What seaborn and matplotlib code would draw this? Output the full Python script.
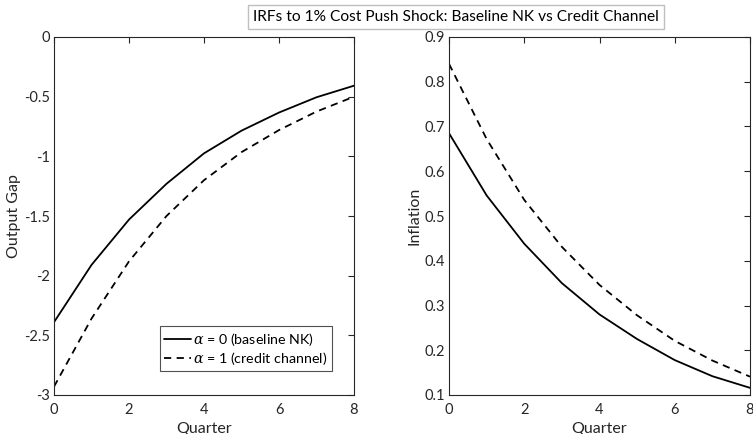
import numpy as np
import pandas as pd
import matplotlib
matplotlib.use("Agg")
import matplotlib.pyplot as plt
from matplotlib.ticker import FuncFormatter
import seaborn as sns

quarters = [0, 1, 2, 3, 4, 5, 6, 7, 8]
gap_nk = [-2.39, -1.91, -1.53, -1.23, -0.975, -0.785, -0.633, -0.505, -0.408]
gap_cc = [-2.93, -2.36, -1.88, -1.50, -1.20, -0.965, -0.78, -0.625, -0.50]
inf_nk = [0.685, 0.546, 0.438, 0.350, 0.280, 0.225, 0.178, 0.142, 0.116]
inf_cc = [0.840, 0.672, 0.536, 0.431, 0.346, 0.278, 0.221, 0.177, 0.141]
series_labels = [r"$\alpha$ = 0 (baseline NK)", r"$\alpha$ = 1 (credit channel)"]
title_text = "IRFs to 1% Cost Push Shock: Baseline NK vs Credit Channel"

sns.set_theme(style="white")
plt.rcParams["font.family"] = ["Lato", "DejaVu Sans"]
plt.rcParams["axes.unicode_minus"] = False
plt.rcParams["mathtext.fontset"] = "dejavuserif"

df_gap = pd.DataFrame({"Quarter": quarters * 2,
                       "value": gap_nk + gap_cc,
                       "series": [series_labels[0]] * 9 + [series_labels[1]] * 9})
df_inf = pd.DataFrame({"Quarter": quarters * 2,
                       "value": inf_nk + inf_cc,
                       "series": [series_labels[0]] * 9 + [series_labels[1]] * 9})

W, H = 753, 434
fig = plt.figure(figsize=(W / 100, H / 100), dpi=100)
ax1 = fig.add_axes([54 / W, (H - 395) / H, 300 / W, 358 / H])
ax2 = fig.add_axes([449 / W, (H - 395) / H, 301 / W, 358 / H])

dashes = {series_labels[0]: "", series_labels[1]: (4, 3)}
palette = {series_labels[0]: "black", series_labels[1]: "black"}

sns.lineplot(data=df_gap, x="Quarter", y="value", hue="series", style="series",
             dashes=dashes, palette=palette, ax=ax1, linewidth=1.3, legend=True)
sns.lineplot(data=df_inf, x="Quarter", y="value", hue="series", style="series",
             dashes=dashes, palette=palette, ax=ax2, linewidth=1.3, legend=False)

fmt = FuncFormatter(lambda v, p: "%g" % round(v, 4))
label_color = "#262626"
for ax in (ax1, ax2):
    ax.set_xlim(0, 8)
    ax.set_xticks([0, 2, 4, 6, 8])
    ax.xaxis.set_major_formatter(fmt)
    ax.yaxis.set_major_formatter(fmt)
    ax.tick_params(direction="in", length=4, width=0.8, top=True, right=True,
                   labelsize=10.5, colors=label_color)
    ax.tick_params(axis="x", pad=6)
    ax.tick_params(axis="y", pad=3)
    for s in ax.spines.values():
        s.set_color("#262626")
        s.set_linewidth(0.8)
    ax.set_xlabel("Quarter", fontsize=11.5, color=label_color, labelpad=3)

ax1.set_ylim(-3, 0)
ax1.set_yticks(np.arange(-3, 0.01, 0.5))
ax1.set_ylabel("Output Gap", fontsize=11.5, color=label_color, labelpad=2)
ax2.set_ylim(0.1, 0.9)
ax2.set_yticks(np.arange(0.1, 0.91, 0.1))
ax2.set_ylabel("Inflation", fontsize=11.5, color=label_color, labelpad=2)

leg = ax1.legend(loc="lower right", bbox_to_anchor=(0.927, 0.067), fontsize=10.3,
                 frameon=True, fancybox=False, handlelength=1.9, handletextpad=0.15,
                 borderpad=0.3, labelspacing=0.15, borderaxespad=0)
leg.get_frame().set_edgecolor("#262626")
leg.get_frame().set_linewidth(0.8)
for t in leg.get_texts():
    t.set_color("black")

fig.text(456 / W, 1 - 17 / H, title_text, ha="center", va="center", fontsize=11.2,
         color="black",
         bbox=dict(boxstyle="square,pad=0.35", facecolor="white", edgecolor="#bfbfbf",
                   linewidth=1.0))

fig.savefig("out.png", dpi=100)
